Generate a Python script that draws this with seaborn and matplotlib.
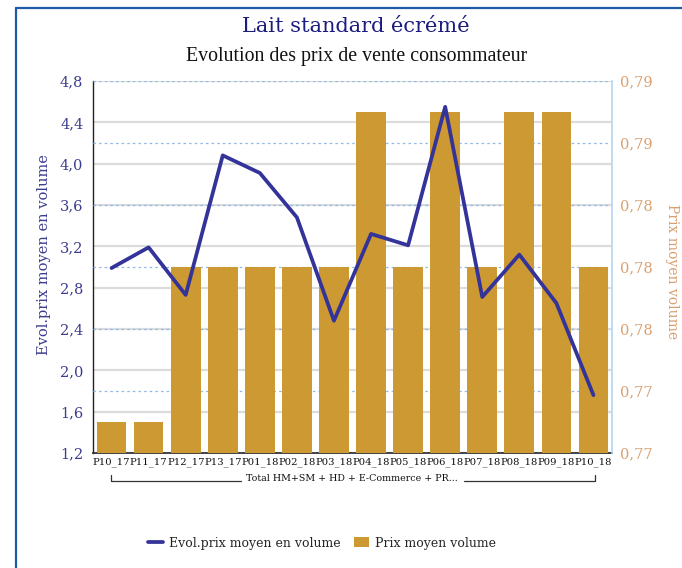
import numpy as np
import pandas as pd
import matplotlib
matplotlib.use("Agg")
import matplotlib.pyplot as plt
import matplotlib.transforms as mtransforms
from matplotlib.lines import Line2D
from matplotlib.patches import Patch
import seaborn as sns

periods = ["P10_17", "P11_17", "P12_17", "P13_17", "P01_18", "P02_18", "P03_18",
           "P04_18", "P05_18", "P06_18", "P07_18", "P08_18", "P09_18", "P10_18"]
evol_prix = [2.99, 3.19, 2.73, 4.08, 3.91, 3.48, 2.48, 3.32, 3.21, 4.55, 2.71, 3.12, 2.65, 1.76]
prix_moyen = [0.773, 0.773, 0.7805, 0.7805, 0.7805, 0.7805, 0.7805, 0.788, 0.7805,
              0.788, 0.7805, 0.788, 0.788, 0.7805]
left_ticks = [1.2, 1.6, 2.0, 2.4, 2.8, 3.2, 3.6, 4.0, 4.4, 4.8]
right_ticks = [0.7715, 0.7745, 0.7775, 0.7805, 0.7835, 0.7865, 0.7895]
group_label = "Total HM+SM + HD + E-Commerce + PR..."
title = "Lait standard écrémé"
subtitle = "Evolution des prix de vente consommateur"
left_label = "Evol.prix moyen en volume"
right_label = "Prix moyen volume"

df = pd.DataFrame({"periode": periods, "evol": evol_prix, "prix": prix_moyen})

sns.set_theme(style="white")
plt.rcParams["font.family"] = ["Liberation Serif", "DejaVu Serif"]
WIDE = ["DejaVu Serif"]

LINE_C = "#333399"
BAR_C = "#cc9933"
LEFT_TXT = "#3d3d8f"
RIGHT_TXT = "#d9a070"

fig = plt.figure(figsize=(6.82, 5.68), dpi=100)
pos = [93/682, 1-453/568, (612-93)/682, (453-81)/568]
ax = fig.add_axes(pos)          # left scale, grey grid
ax2 = ax.twinx()                # bars, right scale
ax.set_zorder(0)
ax2.set_zorder(1)
ax2.patch.set_visible(False)

sns.barplot(data=df, x="periode", y="prix", ax=ax2, color=BAR_C, width=0.8,
            saturation=1, order=periods)
for p in ax2.patches:
    p.set_edgecolor("none")
ax2.set_axisbelow(True)
ax2.set_ylim(right_ticks[0], right_ticks[-1])
ax2.set_yticks(right_ticks)
ax2.set_yticklabels([f"{v:.2f}".replace(".", ",") for v in right_ticks],
                    color=RIGHT_TXT, fontsize=10.5, family=WIDE)
ax2.set_ylabel(right_label, color=RIGHT_TXT, fontsize=10, rotation=270, family=WIDE)
ax2.yaxis.set_label_coords((679 - 93) / 519, (453 - 272) / 372)
ax2.yaxis.grid(True, color="#8fb8ea", linestyle=(0, (2, 2.5)), linewidth=0.9)
ax2.xaxis.grid(False)
ax2.tick_params(axis="y", length=0, pad=6)

ax.set_ylim(left_ticks[0], left_ticks[-1])
ax.set_yticks(left_ticks)
ax.set_yticklabels([f"{v:.1f}".replace(".", ",") for v in left_ticks],
                   color=LEFT_TXT, fontsize=10.5, family=WIDE)
ax.set_ylabel(left_label, color=LEFT_TXT, fontsize=10.5, family=WIDE)
ax.yaxis.set_label_coords((51 - 93) / 519, (453 - 255) / 372)
ax.set_xlim(-0.5, len(periods) - 0.5)
ax.tick_params(axis="x", length=0, pad=3, labelcolor="#111111")
ax.tick_params(axis="y", length=0, pad=7)
ax.yaxis.grid(True, color="#dcdcdc", linewidth=1.6)
ax.xaxis.grid(False)
ax.set_axisbelow(True)

# line on its own top layer, sharing the left scale
ax3 = fig.add_axes(pos, sharex=ax, sharey=ax)
ax3.set_zorder(2)
ax3.patch.set_visible(False)
sns.lineplot(data=df, x="periode", y="evol", ax=ax3, color=LINE_C, linewidth=2.7,
             sort=False)
ax3.axis("off")
ax.set_xlabel("")
ax2.set_xlabel("")
ax.set_ylim(left_ticks[0], left_ticks[-1])
ax.set_xlim(-0.5, len(periods) - 0.5)
plt.setp(ax.get_xticklabels(), fontsize=7.2, family=WIDE)

for a in (ax, ax2):
    for s in a.spines.values():
        s.set_visible(False)
ax.spines["left"].set_visible(True)
ax.spines["left"].set_color("#222222")
ax.spines["left"].set_linewidth(1.0)
ax.spines["bottom"].set_visible(True)
ax.spines["bottom"].set_color("#222222")
ax.spines["bottom"].set_linewidth(1.2)
ax2.spines["right"].set_visible(True)
ax2.spines["right"].set_color("#b8d4f0")
ax2.spines["right"].set_linewidth(1.2)

# group bracket
tr = mtransforms.blended_transform_factory(ax.transData, ax.transAxes)
yb = -(480.5-453)/372
yt = -(475-453)/372
x0, x1 = -0.01, 13.04
ax.plot([x0, x0, 3.5], [yt, yb, yb], transform=tr, color="#333333", lw=0.9, clip_on=False)
ax.plot([9.5, x1, x1], [yb, yb, yt], transform=tr, color="#333333", lw=0.9, clip_on=False)
ax.text(6.49, yb + 0.006, group_label, transform=tr, ha="center", va="center",
        fontsize=6.8, color="#111111", family=WIDE)

fig.text(356/682, 1-26/568, title, ha="center", va="center", fontsize=15,
         color="#1c1c80", family=WIDE)
fig.text(357/682, 1-56/568, subtitle, ha="center", va="center", fontsize=14.3,
         color="#111111")

handles = [Line2D([0], [0], color=LINE_C, lw=2.7),
           Patch(facecolor=BAR_C, edgecolor="none")]
fig.legend(handles, [left_label, right_label], loc="center",
           bbox_to_anchor=(322/682, 1-543/568), ncol=2, frameon=False,
           prop={"family": WIDE, "size": 9.0}, handlelength=1.2, handleheight=0.9,
           columnspacing=1.1, handletextpad=0.5)

# outer frame
fig.add_artist(Line2D([15.5/682, 15.5/682], [0, 1-8/568], color="#1f5aa6", lw=1.6))
fig.add_artist(Line2D([15.5/682, 1], [1-8/568, 1-8/568], color="#1f5aa6", lw=1.6))

fig.savefig("out.png", dpi=100)
